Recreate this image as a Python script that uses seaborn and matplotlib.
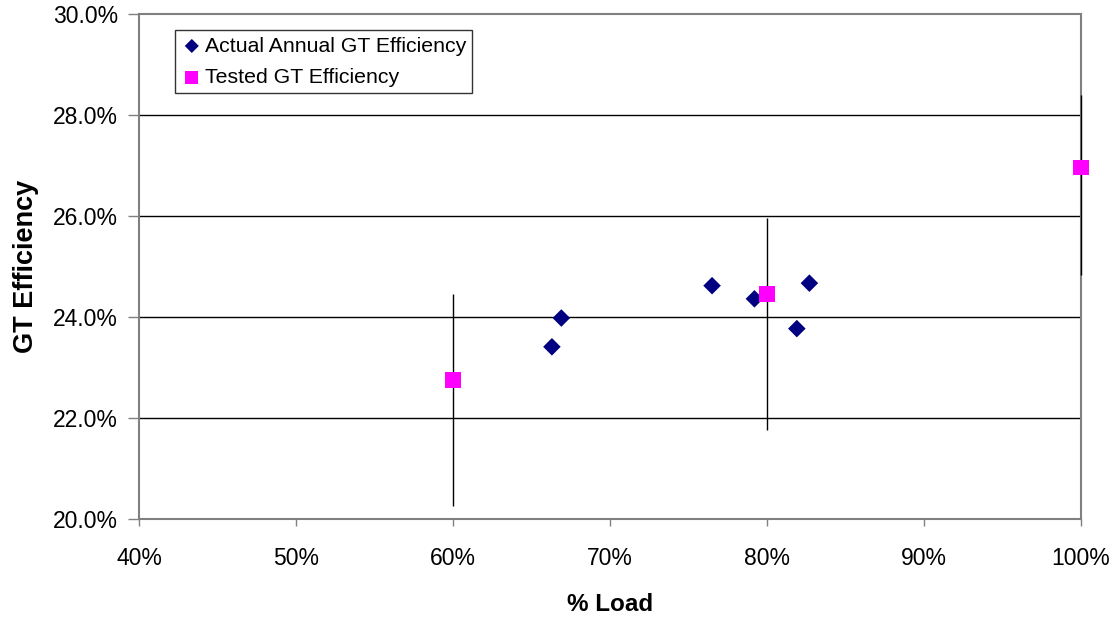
import matplotlib
matplotlib.use('Agg')
import matplotlib.pyplot as plt
import pandas as pd
import seaborn as sns
from matplotlib.ticker import FuncFormatter

# ----------------- data -----------------
# actual annual GT efficiency (% load, % efficiency)
actual_load = [66.3, 66.9, 76.5, 79.2, 81.9, 82.7]
actual_eff = [23.41, 23.98, 24.62, 24.36, 23.77, 24.67]

# tested GT efficiency with error range
tested_load = [60, 80, 100]
tested_eff = [22.76, 24.46, 26.96]
tested_low = [20.26, 21.76, 24.84]
tested_high = [24.46, 25.96, 28.40]

x_ticks = [40, 50, 60, 70, 80, 90, 100]
y_ticks = [20, 22, 24, 26, 28, 30]

# ------------------- plot -------------------
sns.set_style('white')
plt.rcParams['font.family'] = ['Liberation Sans', 'DejaVu Sans']
plt.rcParams['text.color'] = 'black'
plt.rcParams['axes.labelcolor'] = 'black'
plt.rcParams['xtick.color'] = 'black'
plt.rcParams['ytick.color'] = 'black'

actual_df = pd.DataFrame({'load': actual_load, 'eff': actual_eff})
tested_df = pd.DataFrame({'load': tested_load, 'eff': tested_eff,
                          'low': tested_low, 'high': tested_high})

fig = plt.figure(figsize=(11.18, 6.17), dpi=100)
ax = fig.add_axes([139 / 1118, 1 - 519 / 617, 942 / 1118, 505 / 617])

# horizontal gridlines
for y in y_ticks[1:-1]:
    ax.axhline(y, color='black', lw=1, zorder=1)

# error bars (no caps)
err_low = tested_df['eff'] - tested_df['low']
err_high = tested_df['high'] - tested_df['eff']
eb = ax.errorbar(tested_df['load'], tested_df['eff'], yerr=[err_low, err_high],
                 fmt='none', ecolor='black', elinewidth=1, capsize=0, zorder=3)
for coll in eb[2]:
    coll.set_clip_on(False)

sns.scatterplot(data=actual_df, x='load', y='eff', marker='D', s=80, color='#000080',
                edgecolor='none', label='Actual Annual GT Efficiency', ax=ax, zorder=4, clip_on=False)
sns.scatterplot(data=tested_df, x='load', y='eff', marker='s', s=130, color='#FF00FF',
                edgecolor='none', label='Tested GT Efficiency', ax=ax, zorder=5, clip_on=False)

ax.set_xlim(40, 100)
ax.set_ylim(20, 30)
ax.set_xticks(x_ticks)
ax.set_yticks(y_ticks)
ax.xaxis.set_major_formatter(FuncFormatter(lambda v, p: '%d%%' % v))
ax.yaxis.set_major_formatter(FuncFormatter(lambda v, p: '%.1f%%' % v))
ax.tick_params(axis='both', direction='out', width=1, color='#808080',
               labelsize=16.5, labelcolor='black', bottom=True, left=True)
ax.tick_params(axis='x', length=5, pad=15)
ax.tick_params(axis='y', length=8, pad=7)

for side in ['left', 'right', 'top', 'bottom']:
    ax.spines[side].set_visible(True)
    ax.spines[side].set_color('#808080')
    ax.spines[side].set_linewidth(1.5)
    ax.spines[side].set_zorder(2)

ax.set_xlabel('% Load', fontsize=17.5, fontweight='bold', labelpad=17)
ax.set_ylabel('GT Efficiency', fontsize=19.5, fontweight='bold', labelpad=10)

leg = ax.legend(loc='upper left', bbox_to_anchor=(0.038, 0.968), fontsize=15.3, frameon=True,
                fancybox=False, edgecolor='black', borderpad=0.3, handletextpad=0.1,
                handlelength=1.0, borderaxespad=0, labelspacing=0.58, markerscale=0.8)
leg.get_frame().set_linewidth(1)

plt.savefig('out.png', dpi=100)
plt.close()
